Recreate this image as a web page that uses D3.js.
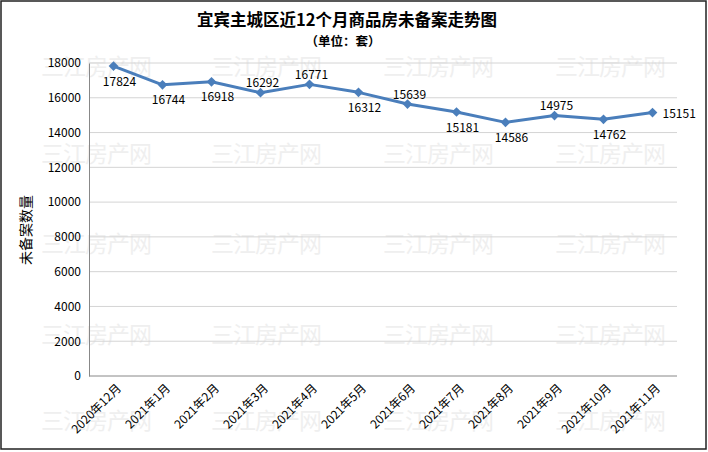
<!DOCTYPE html>
<html><head><meta charset="utf-8">
<script src="https://cdn.jsdelivr.net/npm/d3@7"></script>
<style>body{margin:0;background:#fff}svg{display:block}</style>
</head><body>
<script>
const categories = ["2020年12月","2021年1月","2021年2月","2021年3月","2021年4月","2021年5月","2021年6月","2021年7月","2021年8月","2021年9月","2021年10月","2021年11月"];
const values = [17824,16744,16918,16292,16771,16312,15639,15181,14586,14975,14762,15151];
const labelPlacement = ["below","below","below","above","above","below","above","below","below","above","below","right"];
const yTicks = [0,2000,4000,6000,8000,10000,12000,14000,16000,18000];
const title = "宜宾主城区近12个月商品房未备案走势图";
const subtitle = "（单位：套）";
const yTitle = "未备案数量";
const watermark = "三江房产网";

(function () {
const W = 708, H = 452;
const font = "'Noto Sans CJK SC','Noto Sans',sans-serif";
const svg = d3.select("body").append("svg").attr("width", W).attr("height", H);
svg.append("rect").attr("width", W).attr("height", H).attr("fill", "#fff");

const mLeft = 89, mRight = 677, mTop = 63, mBottom = 376;
const x = d3.scalePoint().domain(categories).range([mLeft, mRight]).padding(0.5);
const y = d3.scaleLinear().domain([0, 18000]).range([mBottom, mTop]);

// watermark
const wmX = [96, 266, 438, 610], wmY = [65, 152, 242, 333, 419];
wmY.forEach(wy => wmX.forEach(wx => {
  svg.append("text").attr("x", wx).attr("y", wy).attr("text-anchor", "middle")
    .attr("dominant-baseline", "central").attr("font-family", font)
    .attr("font-size", 23).attr("fill", "#efefef").attr("letter-spacing", -1)
    .text(watermark);
}));

// gridlines
svg.append("g").selectAll("line").data(yTicks.filter(d => d > 0)).join("line")
  .attr("x1", mLeft).attr("x2", mRight).attr("y1", d => y(d)).attr("y2", d => y(d))
  .attr("stroke", "#d4d4d4").attr("stroke-width", 1);

// y axis
const yAxis = svg.append("g").attr("transform", `translate(${mLeft},0)`)
  .call(d3.axisLeft(y).tickValues(yTicks).tickSize(0).tickPadding(8).tickFormat(d3.format("d")));
yAxis.select(".domain").attr("stroke", "#888");
yAxis.selectAll("text").attr("font-family", font).attr("font-size", 12).attr("fill", "#000");

// x axis
const xAxis = svg.append("g").attr("transform", `translate(0,${mBottom})`)
  .call(d3.axisBottom(x).tickSize(0).tickPadding(0));
xAxis.select(".domain").attr("stroke", "#888").attr("d", `M${mLeft},0H${mRight}`);
xAxis.selectAll("text").attr("font-family", font).attr("font-size", 12).attr("fill", "#000")
  .attr("text-anchor", "end").attr("dy", 0)
  .attr("transform", "translate(8,13) rotate(-45)");

// line
svg.append("path").datum(values)
  .attr("d", d3.line().x((d, i) => x(categories[i])).y(d => y(d)))
  .attr("fill", "none").attr("stroke", "#4a7ebb").attr("stroke-width", 3).attr("stroke-linejoin", "round");

// markers
svg.append("g").selectAll("path").data(values).join("path")
  .attr("d", d3.symbol().type(d3.symbolDiamond2).size(60))
  .attr("transform", (d, i) => `translate(${x(categories[i])},${y(d)})`)
  .attr("fill", "#4a7ebb");

// data labels
svg.append("g").selectAll("text").data(values).join("text")
  .attr("font-family", font).attr("font-size", 12).attr("fill", "#000")
  .attr("text-anchor", (d, i) => labelPlacement[i] === "right" ? "start" : "middle")
  .attr("dominant-baseline", "central")
  .attr("x", (d, i) => x(categories[i]) + (labelPlacement[i] === "right" ? 10 : (labelPlacement[i] === "below" ? 6 : 2)))
  .attr("y", (d, i) => y(d) + (labelPlacement[i] === "below" ? 14 : labelPlacement[i] === "above" ? -11 : 0))
  .text(d => d);

// titles
svg.append("text").attr("x", 347).attr("y", 26).attr("text-anchor", "middle")
  .attr("font-family", font).attr("font-size", 16.5).attr("font-weight", "bold").text(title);
svg.append("text").attr("x", 343).attr("y", 46).attr("text-anchor", "middle")
  .attr("font-family", font).attr("font-size", 12.5).attr("font-weight", "bold").text(subtitle);
svg.append("text").attr("transform", "translate(31,230) rotate(-90)").attr("text-anchor", "middle")
  .attr("font-family", font).attr("font-size", 14).text(yTitle);

// frame
svg.append("rect").attr("x", 1).attr("y", 1).attr("width", W - 3).attr("height", H - 4)
  .attr("fill", "none").attr("stroke", "#222").attr("stroke-width", 1.5);
})();
</script>
</body></html>
